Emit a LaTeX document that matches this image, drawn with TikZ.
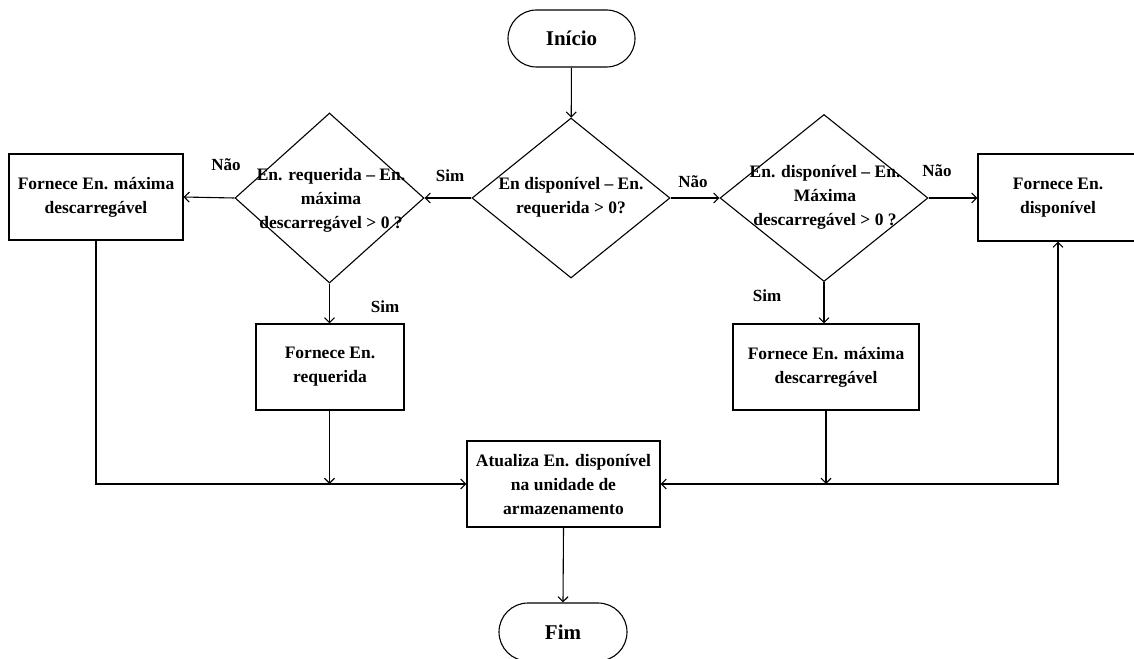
\documentclass[tikz,border=0pt]{standalone}
\usepackage{fontspec}
\setmainfont{Liberation Serif}
\usetikzlibrary{arrows.meta,shapes.geometric,shapes.misc}

\begin{document}
\begin{tikzpicture}[x=1pt,y=-1pt,
  line width=1.1pt,
  every node/.style={font=\fontsize{17.5}{24}\selectfont\bfseries},
  terminal/.style={draw,rounded rectangle,minimum width=127pt,minimum height=57pt,inner sep=0pt,
    font=\fontsize{21}{25}\selectfont\bfseries},
  procbox/.style={draw,rectangle,align=center,inner sep=0pt},
  decision/.style={draw,diamond,inner sep=0pt},
  qtext/.style={align=center,inner sep=0pt},
  branch/.style={font=\fontsize{17}{20}\selectfont\bfseries,inner sep=0pt},
  flow/.style={-{Straight Barb[length=5pt,width=10pt]}},
  flowboth/.style={{Straight Barb[length=5pt,width=10pt]}-{Straight Barb[length=5pt,width=10pt]}}
]
\useasboundingbox (0,0) rectangle (1134,658);

% start and end
\node[terminal] (inicio) at (571.5,38.5) {Início};
\node[terminal,minimum width=128pt,minimum height=58pt] (fim) at (563,632) {Fim};

% decisions
\node[decision,minimum width=198pt,minimum height=160pt] (d0) at (571,198) {};
\node[qtext] (d0t) at (571,197) {En disponível – En.\\requerida > 0?};

\node[decision,minimum width=189pt,minimum height=170pt] (dL) at (329.5,198) {};
\node[qtext] (dLt) at (331,200) {En. requerida – En.\\máxima\\descarregável > 0 ?};

\node[decision,minimum width=208pt,minimum height=167pt] (dR) at (824,198) {};
\node[qtext] (dRt) at (825,197) {En. disponível – En.\\Máxima\\descarregável > 0 ?};

% process boxes
\node[procbox,minimum width=174pt,minimum height=86pt] (boxL) at (96,197) {Fornece En. máxima\\descarregável};
\node[procbox,minimum width=162pt,minimum height=87pt] (boxR) at (1059,197.5) {};
\node[qtext] (boxRt) at (1058,198) {Fornece En.\\disponível};
\node[procbox,minimum width=148pt,minimum height=86pt] (boxReq) at (330,367) {Fornece En.\\requerida};
\node[procbox,minimum width=186pt,minimum height=86pt] (boxMax) at (826,367) {Fornece En. máxima\\descarregável};
\node[procbox,minimum width=193pt,minimum height=86pt] (atual) at (563.5,484) {Atualiza En. disponível\\na unidade de\\armazenamento};

% connectors
\draw[flow] (inicio) -- (d0);
\draw[flow] (d0.west) -- (dL.east);
\draw[flow] (d0.east) -- (dR.west);
\draw[flow] (dL.west) -- (boxL.east);
\draw[flow] (dR.east) -- (boxR.west |- dR.east);
\draw[flow] (dL.south) -- (dL.south |- boxReq.north);
\draw[flow] (dR.south) -- (dR.south |- boxMax.north);

\draw[flow] (boxL.south) -- (boxL.south |- atual.west) -- (atual.west);
\draw[flow] (dL.south |- boxReq.south) -- (dL.south |- atual.west);
\draw[flow] (boxMax.south) -- (boxMax.south |- atual.east);
\draw[flowboth] (atual.east) -- (atual.east -| boxRt.south) -- (boxRt.south |- boxR.south);
\draw[flow] (atual.south) -- (fim.north);

% branch labels
\node[branch] (nL) at (226,165) {Não};
\node[branch] (sL) at (450,176) {Sim};
\node[branch] (nC) at (693,182) {Não};
\node[branch] (nR) at (937,171) {Não};
\node[branch] (sLd) at (385,307) {Sim};
\node[branch] (sRd) at (767,296) {Sim};
\end{tikzpicture}
\end{document}
